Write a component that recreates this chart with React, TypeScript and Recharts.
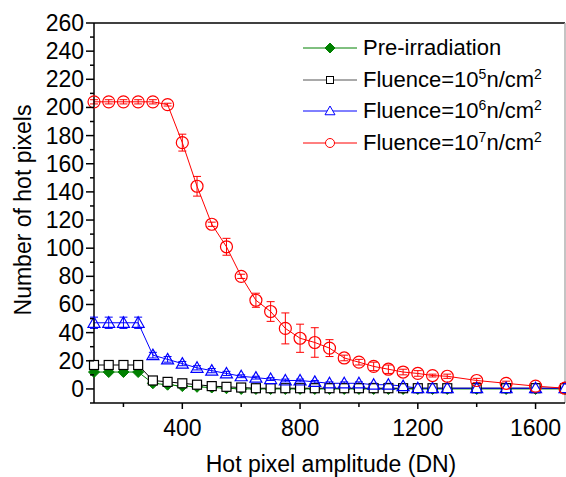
import React from "react";
import { LineChart, Line, XAxis, YAxis, ErrorBar, ReferenceLine } from "recharts";

// hot pixel amplitude threshold (DN)
const amplitude = [100, 150, 200, 250, 300, 350, 400, 450, 500, 550, 600, 650, 700, 750, 800, 850, 900, 950, 1000, 1050, 1100, 1150, 1200, 1250, 1300, 1400, 1500, 1600, 1700];

const preIrr = [12, 12, 12, 12, 4, 3, 2, 1.5, 1, 0.5, 0, 0, 0, 0, 0, 0, 0, 0, 0, 0, 0, 0, 0, 0, 0, 0, 0, 0, 0];

const fluence5 = [17, 17, 17, 17, 6, 5, 4, 3, 2, 1.5, 1, 0.5, 0.5, 0.5, 0.5, 0.5, 0.5, 0.5, 0.5, 0.5, 0.5, 0.5, 0.5, 0.5, 0.5, 0.5, 0.5, 0.5, 0.5];
const fluence5Err = [1.5, 1.5, 1.5, 1.5, 1, 1, 1, 1, 1, 1, 1, 1, 1, 1, 1, 1, 1, 1, 1, 1, 1, 1, 1, 1, 1, 1, 1, 1, 1];

const fluence6 = [47, 47, 47, 47, 24, 21, 18, 15, 13, 11, 9, 8, 7, 6, 6, 5, 4, 4, 4, 3, 3, 2, 0.5, 0.5, 0.5, 0.5, 0.5, 0.5, 0.5];
const fluence6Err = [4, 4, 4, 4, 2, 2, 1.5, 1.5, 1.5, 1.5, 1, 1, 1, 1, 1, 1, 1, 1, 1, 1, 1, 1, 1, 1, 1, 1, 1, 1, 1];

const fluence7 = [204, 204, 204, 204, 204, 202, 175, 144, 117, 101, 80, 63, 55, 43, 36, 33, 29, 22, 19, 16, 14, 12, 11, 9.5, 9, 6, 4, 2, 0.5];
const fluence7Err = [1.5, 1.5, 1.5, 1.5, 1.5, 1, 6, 7, 1.5, 6, 1.5, 5, 7, 11, 10, 10.5, 6, 2, 2, 3, 3, 2, 2, 1, 1.5, 1.5, 1.5, 1.5, 1];

const xTicks = [200, 400, 600, 800, 1000, 1200, 1400, 1600];
const yTicks = [-10, 0, 10, 20, 30, 40, 50, 60, 70, 80, 90, 100, 110, 120, 130, 140, 150, 160, 170, 180, 190, 200, 210, 220, 230, 240, 250, 260];

const GREEN = "#008000";
const BLACK = "#000000";
const BLUE = "#0000ff";
const RED = "#ff0000";
const FONT = "'Liberation Sans', Arial, sans-serif";

const rows = amplitude.map((x, i) => ({
  x,
  pre: preIrr[i],
  f5: fluence5[i],
  f5Err: fluence5Err[i],
  f6: fluence6[i],
  f6Err: fluence6Err[i],
  f7: fluence7[i],
  f7Err: fluence7Err[i],
}));

const diamond = (cx: number, cy: number, r: number) =>
  `M${cx},${cy - r}L${cx + r},${cy}L${cx},${cy + r}L${cx - r},${cy}Z`;
const triangle = (cx: number, cy: number, r: number) =>
  `M${cx},${cy - r}L${cx + r},${cy + r * 0.75}L${cx - r},${cy + r * 0.75}Z`;

const DiamondDot = (p: any) =>
  p.cx == null ? null : <path key={`g${p.index}`} d={diamond(p.cx, p.cy, 5.5)} fill={GREEN} stroke={GREEN} />;
const SquareDot = (p: any) =>
  p.cx == null ? null : (
    <rect key={`k${p.index}`} x={p.cx - 4.5} y={p.cy - 4.5} width={9} height={9} fill="#fff" stroke={BLACK} strokeWidth={1.2} />
  );
const TriangleDot = (p: any) =>
  p.cx == null ? null : <path key={`b${p.index}`} d={triangle(p.cx, p.cy, 6)} fill="none" stroke={BLUE} strokeWidth={1.2} />;
const CircleDot = (p: any) =>
  p.cx == null ? null : <circle key={`r${p.index}`} cx={p.cx} cy={p.cy} r={6} fill="none" stroke={RED} strokeWidth={1.2} />;

const XTick = ({ x, y, payload }: any) => {
  const major = payload.value % 400 === 0;
  return (
    <g>
      <line x1={x} y1={y} x2={x} y2={y + (major ? 6 : 4)} stroke="#000" strokeWidth={1.5} />
      {major && (
        <text x={x} y={y + 33} textAnchor="middle" fontSize={23} fontFamily={FONT} fill="#000">
          {payload.value}
        </text>
      )}
    </g>
  );
};

const YTick = ({ x, y, payload }: any) => {
  const major = payload.value % 20 === 0;
  return (
    <g>
      <line x1={x} y1={y} x2={x - (major ? 8 : 4)} y2={y} stroke="#000" strokeWidth={1.5} />
      {major && (
        <text x={x - 10} y={y + 8} textAnchor="end" fontSize={23} fontFamily={FONT} fill="#000">
          {payload.value}
        </text>
      )}
    </g>
  );
};

const XTitle = () => (
  <text x={331} y={472} textAnchor="middle" fontSize={23} fontFamily={FONT} fill="#000">
    Hot pixel amplitude (DN)
  </text>
);

const YTitle = () => (
  <text x={31} y={210} textAnchor="middle" fontSize={23} fontFamily={FONT} fill="#000" transform="rotate(-90 31 210)">
    Number of hot pixels
  </text>
);

const legendItems = [
  { key: "pre", color: GREEN, label: "Pre-irradiation", exp: "" },
  { key: "f5", color: BLACK, label: "Fluence=10", exp: "5" },
  { key: "f6", color: BLUE, label: "Fluence=10", exp: "6" },
  { key: "f7", color: RED, label: "Fluence=10", exp: "7" },
];

const LegendIcon = ({ k, color }: { k: string; color: string }) => (
  <svg width={54} height={14} style={{ display: "block" }}>
    <line x1={0} y1={7} x2={54} y2={7} stroke={k === "f5" ? "#555" : color} strokeWidth={1} />
    {k === "pre" && <path d={diamond(27, 7, 5)} fill={GREEN} stroke={GREEN} />}
    {k === "f5" && <rect x={23.5} y={3.5} width={7} height={7} fill="#fff" stroke={BLACK} />}
    {k === "f6" && <path d={triangle(27, 7, 5)} fill="#fff" stroke={BLUE} />}
    {k === "f7" && <circle cx={27} cy={7} r={4.5} fill="#fff" stroke={RED} />}
  </svg>
);

export default function App() {
  return (
    <div style={{ position: "absolute", left: 0, top: 0, width: 566, height: 477, background: "#fff" }}>
      <LineChart width={566} height={477} data={rows} margin={{ top: 23, right: 1, bottom: 0, left: 0 }}>
        <XAxis
          dataKey="x"
          type="number"
          domain={[100, 1700]}
          ticks={xTicks}
          interval={0}
          tickSize={0}
          tickMargin={0}
          tickLine={false}
          tick={<XTick />}
          height={74}
          axisLine={{ stroke: "#000", strokeWidth: 1.5 }}
          label={<XTitle />}
        />
        <YAxis
          type="number"
          domain={[-10, 260]}
          ticks={yTicks}
          interval={0}
          tickSize={0}
          tickMargin={0}
          tickLine={false}
          tick={<YTick />}
          width={94}
          axisLine={{ stroke: "#000", strokeWidth: 1.5 }}
          label={<YTitle />}
        />
        <ReferenceLine y={260} stroke="#000" strokeWidth={1.5} />
        <ReferenceLine x={1700} stroke="#b0b0b0" strokeWidth={1.5} />
        <Line dataKey="pre" stroke={GREEN} strokeWidth={1} dot={DiamondDot} isAnimationActive={false} />
        <Line dataKey="f5" stroke={BLACK} strokeWidth={1} dot={SquareDot} isAnimationActive={false}>
          <ErrorBar dataKey="f5Err" direction="y" width={4} stroke={BLACK} strokeWidth={1} isAnimationActive={false} />
        </Line>
        <Line dataKey="f6" stroke={BLUE} strokeWidth={1} dot={TriangleDot} isAnimationActive={false}>
          <ErrorBar dataKey="f6Err" direction="y" width={4} stroke={BLUE} strokeWidth={1} isAnimationActive={false} />
        </Line>
        <Line dataKey="f7" stroke={RED} strokeWidth={1} dot={CircleDot} isAnimationActive={false}>
          <ErrorBar dataKey="f7Err" direction="y" width={4} stroke={RED} strokeWidth={1} isAnimationActive={false} />
        </Line>
      </LineChart>
      <div style={{ position: "absolute", left: 303, top: 32, fontFamily: FONT, fontSize: 22, color: "#000" }}>
        {legendItems.map((it) => (
          <div key={it.key} style={{ display: "flex", alignItems: "center", height: 31.7 }}>
            <LegendIcon k={it.key} color={it.color} />
            <span style={{ marginLeft: 6, whiteSpace: "nowrap", lineHeight: "26px" }}>
              {it.label}
              {it.exp && (
                <>
                  <sup style={{ fontSize: 14, verticalAlign: "8px", lineHeight: 0 }}>{it.exp}</sup>n/cm
                  <sup style={{ fontSize: 14, verticalAlign: "8px", lineHeight: 0 }}>2</sup>
                </>
              )}
            </span>
          </div>
        ))}
      </div>
    </div>
  );
}
